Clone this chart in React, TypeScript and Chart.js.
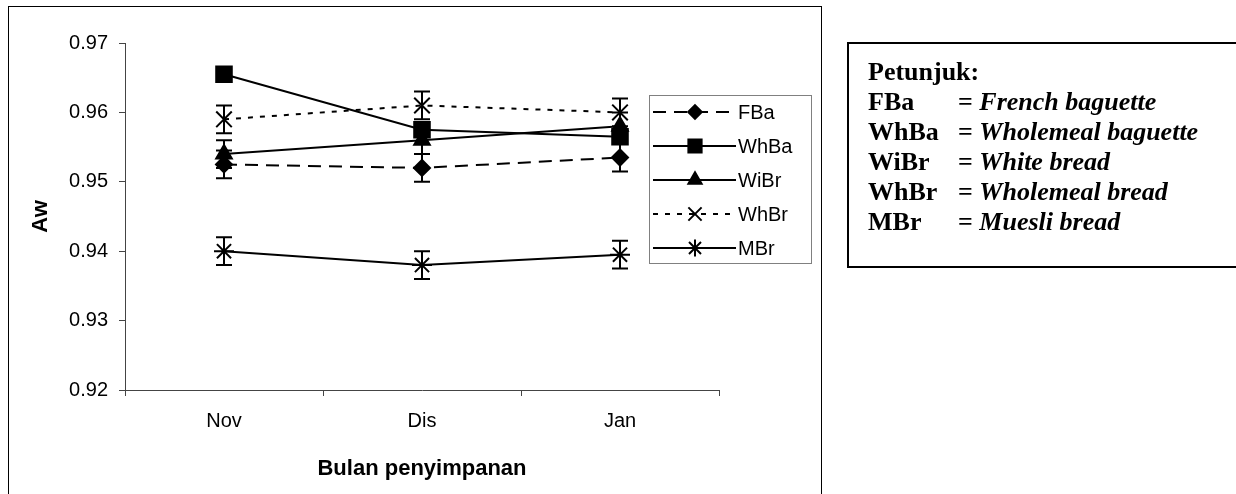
import React, { useEffect, useRef } from 'react';
import { Chart, registerables } from 'chart.js';
import { drawPoint } from 'chart.js/helpers';

Chart.register(...registerables);

// ---------- data ----------
const months = ['Nov', 'Dis', 'Jan'];
const seriesNames = ['FBa', 'WhBa', 'WiBr', 'WhBr', 'MBr'];
const fba = [0.9525, 0.952, 0.9535];
const fbaErr = [0.002, 0.002, 0.002];
const whba = [0.9655, 0.9575, 0.9565];
const whbaErr = [0, 0, 0];
const wibr = [0.954, 0.956, 0.958];
const wibrErr = [0.002, 0.002, 0.002];
const whbr = [0.959, 0.961, 0.96];
const whbrErr = [0.002, 0.002, 0.002];
const mbr = [0.94, 0.938, 0.9395];
const mbrErr = [0.002, 0.002, 0.002];
const yMin = 0.92;
const yMax = 0.97;
const yStep = 0.01;
const xTitle = 'Bulan penyimpanan';
const yTitle = 'Aw';
const noteTitle = 'Petunjuk:';
const noteCodes = ['FBa', 'WhBa', 'WiBr', 'WhBr', 'MBr'];
const noteNames = ['French baguette', 'Wholemeal baguette', 'White bread', 'Wholemeal bread', 'Muesli bread'];

// ---------- styles ----------
const seriesValues = [fba, whba, wibr, whbr, mbr];
const seriesErrs = [fbaErr, whbaErr, wibrErr, whbrErr, mbrErr];
const seriesDash = [[13, 8], [], [], [5, 7], []];
const seriesPoint = ['rectRot', 'rect', 'triangle', 'crossRot', 'star'];
const seriesRadius = [8, 11, 9, 11, 10];

const errorBars = {
  id: 'errorBars',
  afterDatasetsDraw(chart: any) {
    const ctx = chart.ctx;
    const y = chart.scales.y;
    chart.data.datasets.forEach((ds: any, i: number) => {
      const meta = chart.getDatasetMeta(i);
      const errs = ds.err;
      if (!errs) return;
      meta.data.forEach((pt: any, j: number) => {
        const e = errs[j];
        if (!e) return;
        const v = ds.data[j];
        const top = y.getPixelForValue(v + e);
        const bot = y.getPixelForValue(v - e);
        ctx.save();
        ctx.strokeStyle = '#000';
        ctx.lineWidth = 2;
        ctx.setLineDash([]);
        ctx.beginPath();
        ctx.moveTo(pt.x, top);
        ctx.lineTo(pt.x, bot);
        ctx.moveTo(pt.x - 8, top);
        ctx.lineTo(pt.x + 8, top);
        ctx.moveTo(pt.x - 8, bot);
        ctx.lineTo(pt.x + 8, bot);
        ctx.stroke();
        ctx.restore();
      });
    });
  },
};

const boxLegend = {
  id: 'boxLegend',
  afterDraw(chart: any) {
    const ctx = chart.ctx;
    const bx = 649, by = 95, bw = 162, bh = 168;
    ctx.save();
    ctx.strokeStyle = '#808080';
    ctx.lineWidth = 1;
    ctx.setLineDash([]);
    ctx.strokeRect(bx + 0.5, by + 0.5, bw, bh);
    chart.data.datasets.forEach((ds: any, i: number) => {
      const cy = 112 + i * 34;
      ctx.save();
      ctx.strokeStyle = '#000';
      ctx.lineWidth = 2;
      ctx.setLineDash(ds.borderDash || []);
      ctx.beginPath();
      ctx.moveTo(653, cy);
      ctx.lineTo(736, cy);
      ctx.stroke();
      ctx.restore();
      ctx.save();
      ctx.setLineDash([]);
      ctx.fillStyle = '#000';
      ctx.strokeStyle = '#000';
      ctx.lineWidth = 2;
      drawPoint(ctx, {
        pointStyle: ds.pointStyle,
        radius: ds.pointRadius * 0.85,
        rotation: 0,
        borderWidth: 2,
      } as any, 695, cy);
      ctx.restore();
      ctx.fillStyle = '#000';
      ctx.font = '20px "Liberation Sans", Arial, sans-serif';
      ctx.textBaseline = 'middle';
      ctx.textAlign = 'left';
      ctx.fillText(ds.label, 738, cy + 1);
    });
    ctx.restore();
  },
};

export default function App() {
  const ref = useRef<HTMLCanvasElement | null>(null);

  useEffect(() => {
    if (!ref.current) return;
    Chart.defaults.font.family = '"Liberation Sans", Arial, sans-serif';
    Chart.defaults.color = '#000';
    const datasets = seriesNames.map((name, i) => ({
      label: name,
      data: seriesValues[i],
      err: seriesErrs[i],
      borderColor: '#000',
      backgroundColor: '#000',
      borderWidth: 2,
      borderDash: seriesDash[i],
      pointStyle: seriesPoint[i],
      pointRadius: seriesRadius[i],
      pointBorderWidth: 2,
      pointBackgroundColor: '#000',
      pointBorderColor: '#000',
      tension: 0,
      fill: false,
    }));
    const chart = new Chart(ref.current, {
      type: 'line',
      data: { labels: months, datasets: datasets as any },
      options: {
        animation: false,
        responsive: false,
        layout: { padding: { left: 0, top: 43, right: 517, bottom: 0 } },
        plugins: { legend: { display: false }, tooltip: { enabled: false } },
        scales: {
          x: {
            type: 'category',
            offset: true,
            grid: { display: true, drawOnChartArea: false, offset: true, tickLength: 6, color: '#444', tickColor: '#444' },
            border: { display: true, color: '#444', width: 1 },
            ticks: { padding: 13, color: '#000', font: { size: 20 } },
            title: { display: true, text: xTitle, color: '#000', font: { size: 22, weight: 'bold' }, padding: { top: 0, bottom: 12 } },
            afterFit: (s: any) => { s.height = 104; },
          },
          y: {
            min: yMin,
            max: yMax,
            grid: { display: true, drawOnChartArea: false, tickLength: 6, color: '#444', tickColor: '#444' },
            border: { display: true, color: '#444', width: 1 },
            ticks: { stepSize: yStep, padding: 11, color: '#000', font: { size: 20 }, callback: (v: any) => Number(v).toFixed(2) },
            title: { display: true, text: yTitle, color: '#000', font: { size: 22, weight: 'bold' }, padding: { top: 28, bottom: 0 } },
            afterFit: (s: any) => { s.width = 125; },
          },
        },
      } as any,
      plugins: [errorBars, boxLegend],
    });
    return () => chart.destroy();
  }, []);

  const serif = '"Liberation Serif", "Times New Roman", serif';
  const rowTop = (i: number) => 57 + i * 30;

  return (
    <div style={{ position: 'absolute', left: 0, top: 0, width: 1236, height: 494, overflow: 'hidden', background: '#fff' }}>
      <div style={{ position: 'absolute', left: 8, top: 6, width: 812, height: 600, border: '1px solid #000' }} />
      <div style={{ position: 'absolute', left: 847, top: 42, width: 500, height: 222, border: '2px solid #000' }} />
      <canvas ref={ref} width={1236} height={494} style={{ position: 'absolute', left: 0, top: 0, width: 1236, height: 494 }} />
      <div style={{ position: 'absolute', left: 868, top: rowTop(0), font: `bold 26px ${serif}`, lineHeight: '30px', whiteSpace: 'nowrap', color: '#000' }}>{noteTitle}</div>
      {noteCodes.map((c, i) => (
        <React.Fragment key={c}>
          <div style={{ position: 'absolute', left: 868, top: rowTop(i + 1), font: `bold 26px ${serif}`, lineHeight: '30px', whiteSpace: 'nowrap', color: '#000' }}>{c}</div>
          <div style={{ position: 'absolute', left: 958, top: rowTop(i + 1), font: `bold 26px ${serif}`, lineHeight: '30px', whiteSpace: 'nowrap', color: '#000' }}>
            = <i>{noteNames[i]}</i>
          </div>
        </React.Fragment>
      ))}
    </div>
  );
}
